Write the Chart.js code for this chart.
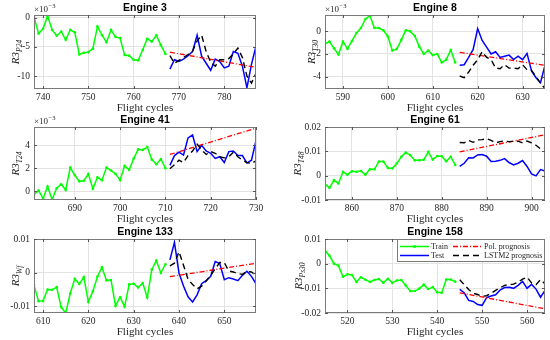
<!DOCTYPE html>
<html>
<head>
<meta charset="utf-8">
<script src="https://cdn.jsdelivr.net/npm/chart.js@4.4.1/dist/chart.umd.min.js"></script>
<style>
  html, body { margin: 0; padding: 0; background: #fff; }
  #wrap { position: relative; width: 550px; height: 340px; }
  #wrap canvas { position: absolute; }
</style>
</head>
<body>
<div id="wrap"></div>
<script>
// first cycle of each engine's train window (30 train cycles, then 20 test cycles)
const startCycles = [738, 586, 681, 854, 608, 515];

// Engine 3, R3_P24 (x1e-3)
const e3Train = [0.1, -2.7, -1.9, 0.3, -2.1, -3.1, -2.4, -3.8, -2.1, -2.5, -6.3, -6.0, -5.9, -5.3, -1.5,
  -3.0, -4.2, -2.1, -3.3, -3.5, -6.4, -6.5, -7.2, -7.3, -5.5, -3.6, -4.1, -3.0, -4.7, -6.2];
const e3Test = [-8.8, -7.2, -7.5, -7.1, -6.5, -5.8, -3.0, -6.6, -7.8, -9.0, -7.1, -7.5, -8.6, -8.3, -5.8,
  -6.1, -8.3, -12.0, -8.0, -4.9];
const e3Lstm = [-6.5, -7.8, -7.3, -6.8, -6.3, -5.7, -4.0, -3.0, -5.8, -7.6, -8.3, -7.2, -7.2, -7.0, -6.2,
  -5.2, -6.8, -10.0, -11.2, -9.5];
const e3Pol = [-5.9, -8.5];

// Engine 8, R3_T30 (x1e-3)
const e8Train = [-1.1, -0.9, -1.5, -2.05, -0.9, -1.55, -0.85, -0.15, 0.3, 1.1, 1.4, 0.3, 0.3, 0.1, -0.45,
  -1.7, -1.55, -0.75, 0.1, 0.0, -0.4, -1.35, -2.0, -1.7, -2.1, -2.0, -2.75, -2.5, -1.65, -2.75];
const e8Test = [-3.0, -2.95, -2.3, -1.6, 0.25, -0.8, -1.4, -2.0, -1.8, -2.3, -2.2, -2.1, -2.5, -2.2, -2.5,
  -1.95, -3.5, -4.1, -4.55, -3.0];
const e8Lstm = [-3.95, -4.1, -3.6, -3.0, -2.5, -1.8, -2.3, -2.5, -3.25, -3.3, -2.95, -3.25, -3.25, -3.3, -2.95,
  -3.4, -3.45, -4.0, -4.6, -5.05];
const e8Pol = [-1.85, -3.0];

// Engine 41, R3_T24 (x1e-3)
const e41Train = [-0.3, 0.05, -0.65, 0.4, -0.75, 0.25, 0.6, 0.1, 2.05, 1.4, 0.85, 0.9, 1.5, 0.2, 1.2,
  0.95, 2.05, 1.8, 1.5, 0.95, 2.2, 1.85, 2.85, 3.65, 3.6, 3.85, 2.75, 2.35, 2.8, 2.0];
const e41Test = [2.25, 3.1, 3.4, 3.15, 4.65, 4.9, 3.45, 4.0, 3.5, 3.3, 2.85, 3.0, 2.5, 3.45, 3.5,
  3.1, 3.1, 2.45, 2.7, 4.4];
const e41Lstm = [1.95, 2.3, 2.7, 2.5, 3.1, 3.5, 4.1, 3.6, 3.2, 3.45, 3.3, 3.0, 2.9, 3.0, 3.4,
  3.0, 2.7, 2.5, 2.4, 2.65];
const e41Pol = [3.2, 5.5];

// Engine 61, R3_T48
const e61Train = [-0.0035, -0.005, -0.0018, -0.0032, 0.0016, 0.0004, 0.0018, 0.0016, 0.0019, 0.0004,
  0.0026, 0.0026, 0.0058, 0.0058, 0.0032, 0.003, 0.005, 0.0078, 0.0095, 0.0084,
  0.0063, 0.0063, 0.0065, 0.0098, 0.0066, 0.0081, 0.008, 0.0059, 0.0078, 0.0044];
const e61Test = [0.0038, 0.0051, 0.0074, 0.0073, 0.0085, 0.0087, 0.008, 0.0058, 0.0059, 0.0063,
  0.007, 0.0054, 0.0044, 0.0051, 0.0062, 0.0038, 0.0007, -0.0001, 0.0025, 0.0019];
const e61Lstm = [0.0136, 0.0135, 0.0145, 0.0137, 0.0147, 0.0148, 0.0152, 0.0145, 0.0135, 0.014,
  0.0142, 0.014, 0.0141, 0.0142, 0.0135, 0.0142, 0.0135, 0.0125, 0.011, 0.0112];
const e61Pol = [0.0098, 0.0168];

// Engine 133, R3_Wf
const e133Train = [-0.0037, -0.0085, -0.0084, -0.005, -0.0051, -0.0043, -0.0103, -0.012, -0.0062, -0.0018,
  -0.0034, -0.0013, -0.0087, -0.0055, -0.0012, 0.0016, -0.0023, -0.0022, -0.0099, -0.0073,
  -0.0101, -0.0035, -0.0033, -0.0044, -0.0031, -0.0074, 0.0009, 0.0036, -0.0001, 0.0025];
const e133Test = [0.0038, 0.009, -0.0001, -0.004, -0.0072, -0.0087, -0.0066, -0.0033, -0.0024, -0.0011,
  0.0033, 0.0027, -0.0021, -0.0015, -0.0019, -0.0024, -0.0008, 0.0004, -0.0011, -0.0033];
const e133Lstm = [0.002, 0.0028, 0.0062, 0.0022, -0.002, -0.0035, -0.0048, -0.004, -0.0025, -0.0008,
  0.0012, 0.003, 0.003, 0.0005, 0.0002, -0.0003, -0.0005, 0.0003, 0.0002, -0.0008];
const e133Pol = [-0.0012, 0.0028];

// Engine 158, R3_Ps30
const e158Train = [0.0053, 0.0032, 0.0, -0.0008, -0.0053, -0.0043, -0.0046, -0.0074, -0.0055, -0.0065,
  -0.0074, -0.0066, -0.0062, -0.0077, -0.0061, -0.0078, -0.0068, -0.0066, -0.0089, -0.0111,
  -0.0111, -0.0101, -0.0085, -0.0103, -0.0095, -0.0116, -0.0118, -0.0064, -0.0064, -0.0073];
const e158Test = [-0.0104, -0.0118, -0.0149, -0.0153, -0.0166, -0.0169, -0.0138, -0.0131, -0.0126, -0.0107,
  -0.0097, -0.0096, -0.01, -0.0088, -0.0072, -0.01, -0.0084, -0.0103, -0.0136, -0.0108];
const e158Lstm = [-0.0065, -0.0085, -0.0105, -0.012, -0.0125, -0.0132, -0.013, -0.012, -0.0108, -0.0098,
  -0.0088, -0.0085, -0.0083, -0.0075, -0.0063, -0.0055, -0.0078, -0.0085, -0.0065, -0.0082];
const e158Pol = [-0.0118, -0.0183];

const panels = [
  { name: 'Engine 3', sub: 'P24', train: e3Train, test: e3Test, lstm: e3Lstm, pol: e3Pol, yMin: -12.2, yMax: 0.45, yStep: 5, exp: true, col: 0, row: 0, labelX: 15 },
  { name: 'Engine 8', sub: 'T30', train: e8Train, test: e8Test, lstm: e8Lstm, pol: e8Pol, yMin: -5.1, yMax: 1.45, yStep: 2, exp: true, col: 1, row: 0, labelX: 36 },
  { name: 'Engine 41', sub: 'T24', train: e41Train, test: e41Test, lstm: e41Lstm, pol: e41Pol, yMin: -0.78, yMax: 5.6, yStep: 2, exp: true, col: 0, row: 1, labelX: 15 },
  { name: 'Engine 61', sub: 'T48', train: e61Train, test: e61Test, lstm: e61Lstm, pol: e61Pol, yMin: -0.01, yMax: 0.02, yStep: 0.01, col: 1, row: 1, labelX: 22 },
  { name: 'Engine 133', sub: 'Wf', train: e133Train, test: e133Test, lstm: e133Lstm, pol: e133Pol, yMin: -0.012, yMax: 0.01, yStep: 0.01, col: 0, row: 2, labelX: 15 },
  { name: 'Engine 158', sub: 'Ps30', train: e158Train, test: e158Test, lstm: e158Lstm, pol: e158Pol, yMin: -0.02, yMax: 0.01, yStep: 0.01, col: 1, row: 2, labelX: 23, legend: true }
];

const serif = '"Liberation Serif", "DejaVu Serif", serif';
const rowTops = [0, 112, 224];
const canvasH = 116;
const areaBottoms = [89, 88, 89];
const xAxisH = 22;

function points(start, values) {
  return values.map((v, i) => ({ x: start + i, y: v }));
}

function decor(p) {
  return {
    id: 'decor',
    afterDraw(chart) {
      const ctx = chart.ctx;
      const a = chart.chartArea;
      const cx = (a.left + a.right) / 2;
      const xs = chart.scales.x, ys = chart.scales.y;
      ctx.save();

      // box and inward ticks
      ctx.strokeStyle = '#7a7a7a';
      ctx.lineWidth = 1;
      ctx.strokeRect(a.left + 0.5, a.top + 0.5, a.right - a.left - 1, a.bottom - a.top - 1);
      ctx.strokeStyle = '#555';
      ctx.beginPath();
      xs.ticks.forEach(t => {
        const px = Math.round(xs.getPixelForValue(t.value)) + 0.5;
        ctx.moveTo(px, a.bottom); ctx.lineTo(px, a.bottom - 3);
        ctx.moveTo(px, a.top); ctx.lineTo(px, a.top + 3);
      });
      ys.ticks.forEach(t => {
        const py = Math.round(ys.getPixelForValue(t.value)) + 0.5;
        ctx.moveTo(a.left, py); ctx.lineTo(a.left + 3, py);
        ctx.moveTo(a.right, py); ctx.lineTo(a.right - 3, py);
      });
      ctx.stroke();

      // title
      ctx.fillStyle = '#000';
      ctx.font = 'bold 10.5px "Liberation Sans", Arial, sans-serif';
      ctx.textAlign = 'center';
      ctx.textBaseline = 'middle';
      ctx.fillText(p.name, cx, a.top - 7);

      // x label
      ctx.fillStyle = '#262626';
      ctx.font = '11px ' + serif;
      ctx.fillText('Flight cycles', cx, a.bottom + 19);

      // exponent
      if (p.exp) {
        ctx.textAlign = 'left';
        ctx.textBaseline = 'alphabetic';
        ctx.font = '9px ' + serif;
        ctx.fillText('×10', a.left, a.top - 3);
        const w = ctx.measureText('×10').width;
        ctx.font = '6.5px ' + serif;
        ctx.fillText('−3', a.left + w + 0.5, a.top - 7);
      }

      // y label
      ctx.save();
      ctx.translate(p.labelX, (a.top + a.bottom) / 2);
      ctx.rotate(-Math.PI / 2);
      ctx.textAlign = 'left';
      ctx.textBaseline = 'alphabetic';
      ctx.font = 'italic 11px ' + serif;
      const mw = ctx.measureText('R3').width;
      ctx.font = 'italic 7.5px ' + serif;
      const sw = ctx.measureText(p.sub).width;
      const x0 = -(mw + sw) / 2;
      ctx.font = 'italic 11px ' + serif;
      ctx.fillText('R3', x0, 4);
      ctx.font = 'italic 7.5px ' + serif;
      ctx.fillText(p.sub, x0 + mw, 7);
      ctx.restore();

      // legend
      if (p.legend) {
        const ds = {};
        chart.data.datasets.forEach(d => { ds[d.label] = d; });
        const lx = a.left + 72, ly = a.top, lw = a.right - lx, lh = 23;
        ctx.fillStyle = '#fff';
        ctx.fillRect(lx, ly, lw, lh);
        ctx.strokeStyle = '#7a7a7a';
        ctx.lineWidth = 1;
        ctx.strokeRect(lx + 0.5, ly + 0.5, lw - 1, lh - 1);
        const entries = [
          [ds['Train'], lx + 3, ly + 7], [ds['Test'], lx + 3, ly + 16],
          [ds['Pol. prognosis'], lx + 56, ly + 7], [ds['LSTM2 prognosis'], lx + 56, ly + 16]
        ];
        ctx.font = '8px ' + serif;
        ctx.textAlign = 'left';
        ctx.textBaseline = 'middle';
        entries.forEach(([d, ex, ey]) => {
          ctx.strokeStyle = d.borderColor;
          ctx.lineWidth = d.borderWidth;
          ctx.setLineDash(d.borderDash || []);
          ctx.beginPath();
          ctx.moveTo(ex, ey + 0.5); ctx.lineTo(ex + 29, ey + 0.5);
          ctx.stroke();
          ctx.setLineDash([]);
          if (d.pointRadius > 0) {
            ctx.fillStyle = d.borderColor;
            ctx.beginPath();
            ctx.arc(ex + 14.5, ey + 0.5, 1.5, 0, Math.PI * 2);
            ctx.fill();
          }
          ctx.fillStyle = '#262626';
          ctx.fillText(d.label, ex + 31, ey + 1);
        });
      }
      ctx.restore();
    }
  };
}

const wrap = document.getElementById('wrap');

panels.forEach((p, k) => {
  const start = startCycles[k];
  const W = 275, H = canvasH;
  const canvas = document.createElement('canvas');
  canvas.width = W; canvas.height = H;
  canvas.style.left = (p.col * 275) + 'px';
  canvas.style.top = rowTops[p.row] + 'px';
  canvas.style.width = W + 'px';
  canvas.style.height = H + 'px';
  wrap.appendChild(canvas);

  const yW = p.col ? 50 : 34;
  const padRight = p.col ? 5 : 19;
  const padBottom = H - areaBottoms[p.row] - xAxisH;

  new Chart(canvas.getContext('2d'), {
    type: 'line',
    data: {
      datasets: [
        { label: 'LSTM2 prognosis', data: points(start + 30, p.lstm), borderColor: '#000000', borderWidth: 1.4, borderDash: [6, 4], pointRadius: 0, tension: 0 },
        { label: 'Pol. prognosis', data: [{ x: start + 30, y: p.pol[0] }, { x: start + 49, y: p.pol[1] }], borderColor: '#ff0000', borderWidth: 1.3, borderDash: [5, 2, 1, 2], pointRadius: 0 },
        { label: 'Test', data: points(start + 30, p.test), borderColor: '#0000ff', borderWidth: 1.5, pointRadius: 0 },
        { label: 'Train', data: points(start, p.train), borderColor: '#00ff00', backgroundColor: '#00ff00', borderWidth: 1.5, pointRadius: 1.3, pointBorderWidth: 0 }
      ]
    },
    options: {
      responsive: false,
      animation: false,
      devicePixelRatio: 1,
      layout: { padding: { left: 0, right: padRight, top: 15, bottom: padBottom } },
      plugins: { legend: { display: false }, title: { display: false }, tooltip: { enabled: false } },
      scales: {
        x: {
          type: 'linear',
          min: start, max: start + 49,
          afterFit: s => { s.height = xAxisH; },
          border: { display: false },
          grid: { color: '#e3e3e3', drawTicks: false },
          ticks: { stepSize: 10, includeBounds: false, padding: 3, maxRotation: 0, color: '#262626', font: { family: serif, size: 9.5 } }
        },
        y: {
          min: p.yMin, max: p.yMax,
          afterFit: s => { s.width = yW; },
          border: { display: false },
          grid: { color: '#e3e3e3', drawTicks: false },
          ticks: { stepSize: p.yStep, includeBounds: false, padding: 4, color: '#262626', font: { family: serif, size: 9.5 } }
        }
      }
    },
    plugins: [decor(p)]
  });
});
</script>
</body>
</html>
